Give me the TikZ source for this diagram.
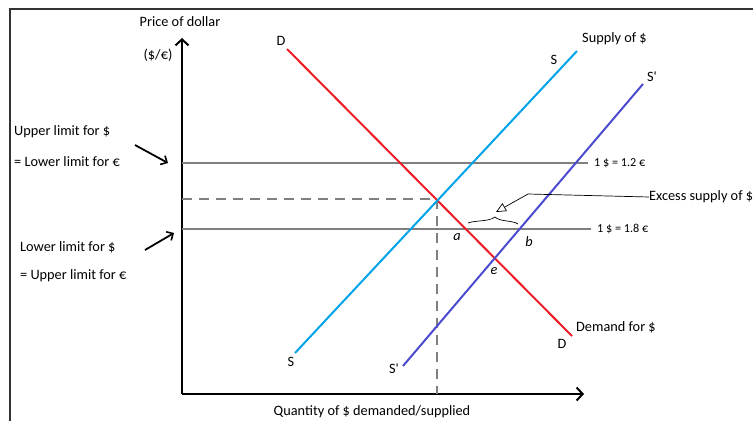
\documentclass[tikz,border=0pt]{standalone}
\usepackage{fontspec}
\setmainfont{Carlito}
\newfontfamily\plainfont{Carlito}
\usetikzlibrary{arrows.meta}
\definecolor{dred}{HTML}{ED1C24}
\definecolor{scyan}{HTML}{00A2E8}
\definecolor{sblue}{HTML}{4B4BD0}
\definecolor{lgray}{HTML}{7F7F7F}
\begin{document}
\begin{tikzpicture}[x=1pt,y=-1pt,
  lbl/.style={inner sep=0pt,font=\fontsize{14.3}{16}\selectfont},
  axis/.style={line width=2.4pt,black,-{Straight Barb[length=6pt,width=13pt,line width=2pt]}},
  curve/.style={line width=2pt},
  level/.style={line width=2pt,lgray},
  dashln/.style={line width=2pt,lgray,dash pattern=on 10pt off 7pt},
  pointer/.style={line width=1.8pt,black,-{Straight Barb[length=5pt,width=10pt,line width=1.6pt]}},
  leader/.style={line width=0.7pt,black,-{Triangle[open,length=10pt,width=9pt]}}]
\useasboundingbox (0,0) rectangle (753,421);
% frame
\draw[line width=2pt,black!80] (10,421) -- (10,9) -- (753,9);
% axes
\coordinate (O) at (182,394);
\coordinate (ytop) at (182,38);
\coordinate (xend) at (584,394);
\draw[axis] (O) -- (ytop);
\draw[axis] (O) -- (xend);
% level lines
\coordinate (u0) at (182,163);
\coordinate (u1) at (588,163);
\coordinate (l0) at (182,229);
\coordinate (l1) at (591,229);
\coordinate (d0) at (182,199);
\coordinate (eq) at (437,199);
\coordinate (eqx) at (437,394);
\draw[level] (u0) -- (u1);
\draw[level] (l0) -- (l1);
\draw[dashln] (d0) -- (eq) -- (eqx);
% curves
\coordinate (Dt) at (287,49);
\coordinate (Db) at (572,336);
\coordinate (St) at (577,51);
\coordinate (Sb) at (295,353);
\coordinate (Spt) at (643,84);
\coordinate (Spb) at (403,366);
\draw[curve,dred] (Dt) -- (Db);
\draw[curve,scyan] (Sb) -- (St);
\draw[curve,sblue] (Spb) -- (Spt);
% labels
\node[lbl] (pd) at (180,22) {Price of dollar};
\node[lbl] (unit) at (158,55) {(\$/€)};
\node[lbl] (qx) at (372,412) {Quantity of \$ demanded/supplied};
\node[lbl] (Dtl) at (281,41) {D};
\node[lbl] (Dbl) at (562,344) {D};
\node[lbl] (Stl) at (554,60) {S};
\node[lbl] (Sbl) at (291,362) {S};
\node[lbl] (Sptl) at (652,77) {\plainfont S'};
\node[lbl] (Spbl) at (394,369) {\plainfont S'};
\node[lbl,anchor=west] (sup) at (582,39) {Supply of \$};
\node[lbl,anchor=west] (dem) at (576,327) {Demand for \$};
\node[lbl,anchor=west] (r1) at (594,163) {\fontsize{12.2}{14}\selectfont 1 \$ = 1.2 €};
\node[lbl,anchor=west] (r2) at (597,229) {\fontsize{12.2}{14}\selectfont 1 \$ = 1.8 €};
\node[lbl,anchor=west] (ex) at (649,197) {Excess supply of \$};
\node[lbl] (a) at (457,237) {\itshape a};
\node[lbl] (b) at (529,242) {\itshape b};
\node[lbl] (e) at (494,271) {\itshape e};
\node[lbl,anchor=west] (ul1) at (14,132) {Upper limit for \$};
\node[lbl,anchor=west] (ul2) at (14,162) {= Lower limit for €};
\node[lbl,anchor=west] (ll1) at (20,247) {Lower limit for \$};
\node[lbl,anchor=west] (ll2) at (20,276) {= Upper limit for €};
% pointers
\coordinate (p1s) at (135,145);
\coordinate (p1e) at (168,163);
\coordinate (p2s) at (145,250);
\coordinate (p2e) at (174,233);
\draw[pointer] (p1s) -- (p1e);
\draw[pointer] (p2s) -- (p2e);
% excess supply leader
\coordinate (k) at (528,194);
\coordinate (tip) at (496,212);
\draw[leader] (ex.west) -- (k) -- (tip);
% brace
\coordinate (bl) at (468,223);
\coordinate (bm) at (495,217);
\coordinate (br) at (518,224);
\draw[line width=0.7pt] (bl) .. controls (476,220) and (488,222) .. (bm) .. controls (500,222) and (512,220) .. (br);
\end{tikzpicture}
\end{document}
